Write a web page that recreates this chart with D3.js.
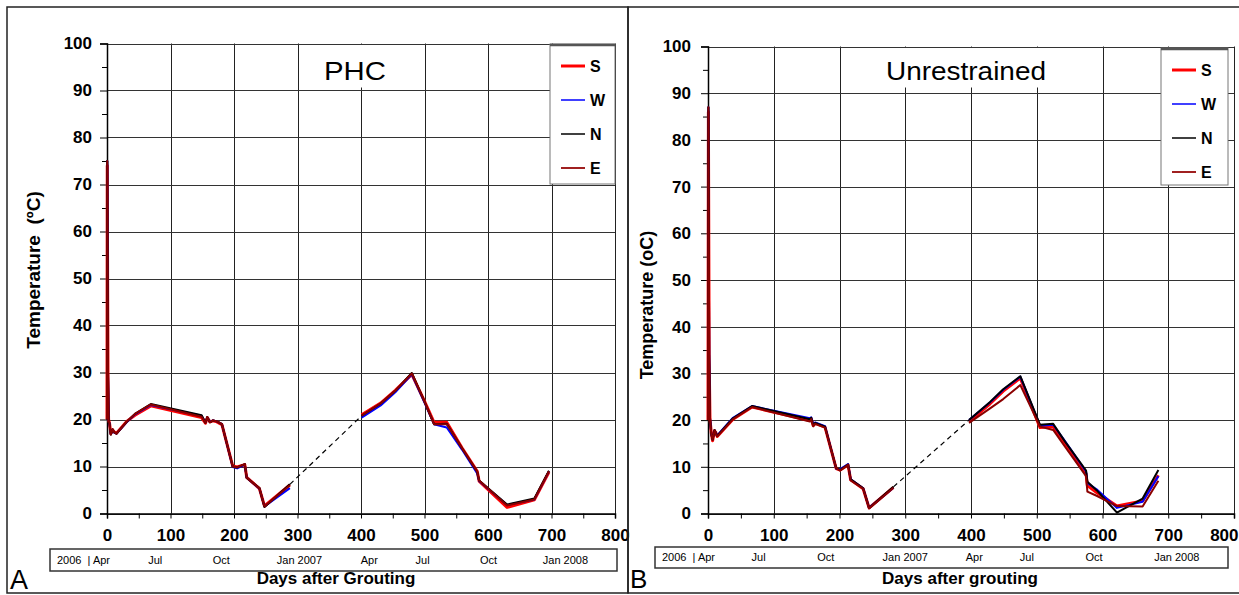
<!DOCTYPE html>
<html><head><meta charset="utf-8">
<script src="https://cdn.jsdelivr.net/npm/d3@7"></script>
<style>
body{margin:0;background:#fff}
svg{display:block}
text{font-family:"Liberation Sans",Arial,sans-serif;fill:#000}
</style>
</head><body>
<svg id="c" width="1239" height="595"></svg>
<script>
// ---------------- DATA ----------------
const seriesNames = ["S","W","N","E"];
const xTicks = [0,100,200,300,400,500,600,700,800];
const yTicks = [0,10,20,30,40,50,60,70,80,90,100];
const dateLabels = ["2006  | Apr","Jul","Oct","Jan 2007","Apr","Jul","Oct","Jan 2008"];

// Panel A (PHC) - null marks the data gap (winter)
const phcDays = [0,0.4,1,1.6,2.5,4,6,9,11,15,31,44,69,149,155,158,162,167,173,181,198,205,217,220,240,248,288,null,401,431,454,480,500,515,535,559,583,586,630,673,696];
const phcS = [20,74,49,29,20,19.2,17.0,17.8,17.4,17.1,19.6,20.9,22.9,20.4,19.2,20.4,19.5,19.7,19.5,18.9,10.1,9.9,10.4,7.7,5.3,1.6,6.1,null,21.0,23.5,26.2,29.6,23.9,19.4,19.4,14.0,9.0,6.9,1.3,2.9,8.8];
const phcW = [20,75,50,30,20,19,16.9,17.8,17.2,17.0,19.4,21.1,23.1,20.8,19.4,20.4,19.5,19.8,19.6,19.0,9.9,9.6,10.4,7.6,5.3,1.5,5.4,null,20.4,23.0,25.8,29.6,23.6,19.0,18.3,13.6,8.5,6.9,1.8,3.0,9.0];
const phcN = [20,75,50,30,20,19,16.8,17.9,17.3,17.0,19.5,21.2,23.3,20.9,19.3,20.5,19.4,19.8,19.6,19.0,10.0,9.8,10.5,7.6,5.4,1.4,6.2,null,20.8,23.4,26.1,29.9,23.8,19.0,19.1,13.9,8.9,7.0,1.9,3.2,9.1];
const phcE = [20,75,50,30,20,19,16.8,17.9,17.3,17.0,19.5,21.2,23.2,20.6,19.3,20.5,19.4,19.8,19.6,19.0,10.0,9.8,10.5,7.6,5.4,1.5,6.0,null,20.8,23.4,26.1,29.8,23.8,19.0,19.0,13.9,8.9,7.0,1.7,3.0,9.0];
const phcDateDays = [null,76,180,303,413,497,601,722];

// Panel B (Unrestrained)
const unrDays = [0,0.6,1.8,3,5,7,10,12,14,38,67,155,157,160,163,178,195,201,213,217,236,245,282,null,397,429,449,475,505,525,543,575,577,591,622,661,685];
const unrS = [20,86,33,20.3,17.2,15.6,17.7,17.3,16.5,20.2,22.8,19.9,20.3,18.8,19.3,18.5,9.6,9.3,10.4,7.2,5.3,1.2,5.6,null,19.7,23.5,26.2,29.0,18.4,18.6,15.0,8.5,6.0,4.5,1.6,2.7,8.2];
const unrW = [20,87,34,20.5,17,15.9,17.8,17.2,16.7,20.5,23.0,20.4,20.6,19.1,19.5,18.7,9.6,9.5,10.6,7.3,5.4,1.2,5.5,null,20.0,23.8,26.5,29.3,18.8,19.0,15.5,9.0,6.5,5.2,1.2,2.5,8.0];
const unrN = [20,87,34,20.5,17,15.8,17.9,17.2,16.6,20.4,23.0,20.2,20.5,18.9,19.4,18.6,9.7,9.3,10.5,7.3,5.4,1.2,5.7,null,20.0,23.9,26.6,29.4,19.0,19.2,15.4,9.2,6.8,5.0,0.2,3.2,9.3];
const unrE = [20,87,34,20.3,17,15.8,17.8,17.1,16.5,20.2,22.8,19.7,20.2,18.7,19.2,18.4,9.7,9.2,10.4,7.1,5.3,1.1,5.5,null,19.4,22.5,24.5,27.5,18.6,17.9,14.3,8.0,4.7,3.8,1.6,1.5,7.0];
const unrDateDays = [null,77,179,300,405,485,587,713];

// ---------------- STYLE / LAYOUT ----------------
const styles = {
  S:{color:"#ff0000", w:3},
  W:{color:"#0000ff", w:2},
  N:{color:"#000000", w:2},
  E:{color:"#8b0000", w:2}
};
const legendStyles = {
  S:{color:"#ff0000", w:3},
  W:{color:"#0000ff", w:1.5},
  N:{color:"#000000", w:1.5},
  E:{color:"#a02020", w:2}
};

const panels = [
  {
    frame:[7,7,621,586], x0:107, x1:615, yTop:43.5, yBot:513.5,
    days:phcDays, vals:{S:phcS,W:phcW,N:phcN,E:phcE},
    title:"PHC", titleX:355, titleY:80, titleLen:62,
    ylab:"Temperature  (\u00baC)", ylabX:40, ylabY:270, ylabSize:19,
    xlab:"Days after Grouting", xlabX:336, xlabY:584,
    legend:[550,44,65,140], letter:"A", letterX:10, letterY:589, letterSize:27,
    dateBox:[50,549,567,22], dateDays:phcDateDays, dateY:564, tickPad:8, lastLabelEnd:null
  },
  {
    frame:[628,7,620,586], x0:708, x1:1234, yTop:46.5, yBot:513.5,
    days:unrDays, vals:{S:unrS,W:unrW,N:unrN,E:unrE},
    title:"Unrestrained", titleX:966, titleY:80, titleLen:160,
    ylab:"Temperature (oC)", ylabX:653, ylabY:305, ylabSize:18,
    xlab:"Days after grouting", xlabX:960, xlabY:584,
    legend:[1161,48,67,137], letter:"B", letterX:630, letterY:588, letterSize:26,
    dateBox:[655,547,573,21], dateDays:unrDateDays, dateY:561, tickPad:10, lastLabelEnd:1238
  }
];

const svg = d3.select("#c");

panels.forEach(p => {
  const g = svg.append("g");
  const x = d3.scaleLinear().domain([0,800]).range([p.x0,p.x1]);
  const y = d3.scaleLinear().domain([0,100]).range([p.yBot,p.yTop]);

  // frame
  g.append("rect").attr("x",p.frame[0]).attr("y",p.frame[1]).attr("width",p.frame[2]).attr("height",p.frame[3])
    .attr("fill","none").attr("stroke","#222").attr("stroke-width",1.5);

  // grid
  g.append("g").selectAll("line.v").data(xTicks).join("line")
    .attr("x1",d=>Math.round(x(d))+0.5).attr("x2",d=>Math.round(x(d))+0.5)
    .attr("y1",p.yTop).attr("y2",p.yBot).attr("stroke","#222").attr("stroke-width",1);
  g.append("g").selectAll("line.h").data(yTicks).join("line")
    .attr("y1",d=>Math.round(y(d))+0.5).attr("y2",d=>Math.round(y(d))+0.5)
    .attr("x1",p.x0).attr("x2",p.x1).attr("stroke","#333").attr("stroke-width",1);

  // title with white backing
  const tt = g.append("text").attr("x",p.titleX).attr("y",p.titleY).attr("text-anchor","middle")
    .attr("font-size",25).attr("textLength",p.titleLen).attr("lengthAdjust","spacingAndGlyphs").text(p.title);
  const bb = tt.node().getBBox();
  g.insert("rect", () => tt.node()).attr("x",bb.x-3).attr("y",p.yTop+1.5).attr("width",bb.width+6)
    .attr("height",p.titleY+6-p.yTop).attr("fill","#fff");

  // axes
  const ya = d3.axisLeft(y).tickValues(yTicks).tickSize(7).tickPadding(p.tickPad).tickFormat(d3.format("d"));
  const yg = g.append("g").attr("transform",`translate(${p.x0},0)`).call(ya);
  yg.select(".domain").attr("stroke","#000").attr("stroke-width",1.5);
  yg.selectAll(".tick text").attr("font-size",17).attr("font-weight","bold").attr("font-family","'Liberation Sans',Arial,sans-serif");
  const yMinor = g.append("g").attr("transform",`translate(${p.x0},0)`).call(
    d3.axisLeft(y).tickValues(d3.range(5,100,10)).tickSize(5).tickFormat(""));
  yMinor.select(".domain").remove();

  const xa = d3.axisBottom(x).tickValues(xTicks).tickSize(5).tickPadding(10).tickFormat(d3.format("d"));
  const xg = g.append("g").attr("transform",`translate(0,${p.yBot})`).call(xa);
  xg.select(".domain").attr("stroke","#000").attr("stroke-width",1.5);
  xg.selectAll(".tick text").attr("font-size",17).attr("font-weight","bold").attr("font-family","'Liberation Sans',Arial,sans-serif");
  if (p.lastLabelEnd != null) {
    const last = xg.selectAll(".tick").filter(d => d === 800).select("text");
    last.attr("text-anchor","end").attr("x", p.lastLabelEnd - x(800));
  }
  const xMinor = g.append("g").attr("transform",`translate(0,${p.yBot})`).call(
    d3.axisBottom(x).tickValues(d3.range(50,800,100)).tickSize(5).tickFormat(""));
  xMinor.select(".domain").remove();

  // data lines
  const line = d3.line().defined(d=>d[1]!=null && d[0]!=null).x(d=>x(d[0])).y(d=>y(d[1]));
  seriesNames.forEach(s => {
    const pts = p.days.map((d,i)=>[d,p.vals[s][i]]);
    g.append("path").attr("d",line(pts)).attr("fill","none")
      .attr("stroke",styles[s].color).attr("stroke-width",styles[s].w).attr("stroke-linejoin","round");
  });
  // dashed connector across gap (N series)
  const gi = p.days.indexOf(null);
  const a = [p.days[gi-1], p.vals.N[gi-1]], b = [p.days[gi+1], p.vals.N[gi+1]];
  g.append("line").attr("x1",x(a[0])).attr("y1",y(a[1])).attr("x2",x(b[0])).attr("y2",y(b[1]))
    .attr("stroke","#000").attr("stroke-width",1.2).attr("stroke-dasharray","5,4");

  // legend
  const [lx,ly,lw,lh] = p.legend;
  g.append("rect").attr("x",lx).attr("y",ly).attr("width",lw).attr("height",lh)
    .attr("fill","#fff").attr("stroke","#777").attr("stroke-width",1);
  g.append("line").attr("x1",lx).attr("x2",lx+lw).attr("y1",ly+1).attr("y2",ly+1).attr("stroke","#555").attr("stroke-width",2.5);
  seriesNames.forEach((s,i) => {
    const yy = ly + 22 + i*34;
    g.append("line").attr("x1",lx+11).attr("x2",lx+35).attr("y1",yy).attr("y2",yy)
      .attr("stroke",legendStyles[s].color).attr("stroke-width",legendStyles[s].w);
    g.append("text").attr("x",lx+40).attr("y",yy+6).attr("font-size",16).attr("font-weight","bold").text(s);
  });

  // y label
  g.append("text").attr("transform",`translate(${p.ylabX},${p.ylabY}) rotate(-90)`).attr("text-anchor","middle")
    .attr("font-size",p.ylabSize).attr("font-weight","bold").style("white-space","pre").text(p.ylab);

  // date strip
  const [dx,dy,dw,dh] = p.dateBox;
  g.append("rect").attr("x",dx).attr("y",dy).attr("width",dw).attr("height",dh)
    .attr("fill","#fff").attr("stroke","#333").attr("stroke-width",1.5);
  dateLabels.forEach((t,i) => {
    const d = p.dateDays[i];
    g.append("text").attr("x", d==null ? dx+7 : x(d)).attr("y",p.dateY)
      .attr("text-anchor", d==null ? "start" : "middle").attr("font-size",11).attr("fill","#222")
      .style("white-space","pre").text(t);
  });

  // x label
  g.append("text").attr("x",p.xlabX).attr("y",p.xlabY).attr("text-anchor","middle")
    .attr("font-size",17).attr("font-weight","bold").text(p.xlab);

  // panel letter
  g.append("text").attr("x",p.letterX).attr("y",p.letterY).attr("font-size",p.letterSize).text(p.letter);
});
</script>
</body></html>
